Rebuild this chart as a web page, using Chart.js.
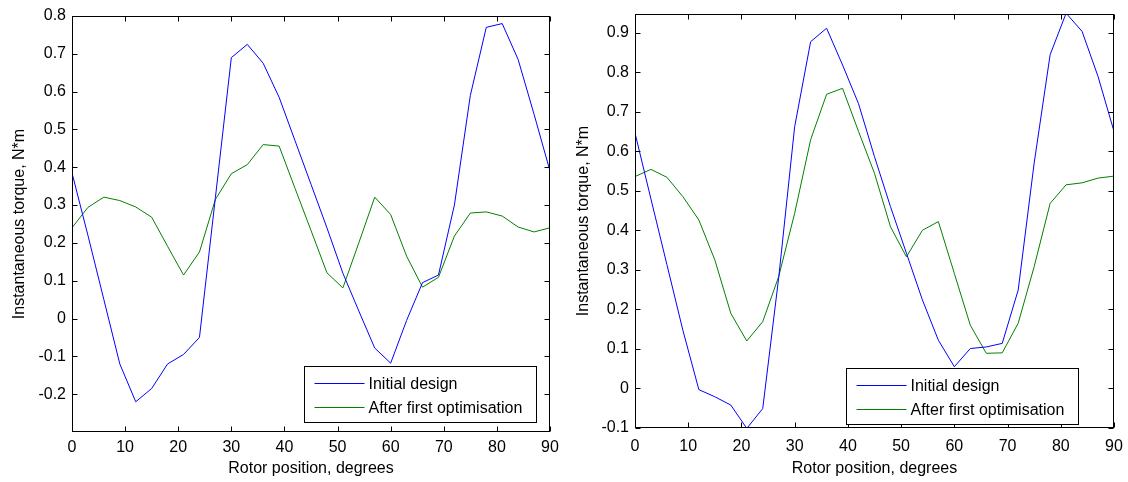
<!DOCTYPE html>
<html><head><meta charset="utf-8">
<script src="https://cdn.jsdelivr.net/npm/chart.js@4.4.1/dist/chart.umd.min.js"></script>
<style>
html,body{margin:0;padding:0;background:#fff;width:1128px;height:482px;overflow:hidden}
.c{position:absolute;top:0;width:564px;height:482px}
</style></head><body>
<div class="c" style="left:0"><canvas id="a" width="564" height="482"></canvas></div>
<div class="c" style="left:564px"><canvas id="b" width="564" height="482"></canvas></div>
<script>
const positions = [0,3,6,9,12,15,18,21,24,27,30,33,36,39,42,45,48,51,54,57,60,63,66,69,72,75,78,81,84,87,90];
const initialLeft = [0.385,0.22,0.05,-0.12,-0.22,-0.185,-0.12,-0.095,-0.05,0.32,0.69,0.725,0.675,0.585,0.47,0.355,0.24,0.12,0.02,-0.078,-0.118,-0.005,0.095,0.115,0.30,0.59,0.77,0.78,0.685,0.54,0.39];
const optimisedLeft = [0.24,0.294,0.321,0.312,0.295,0.268,0.191,0.115,0.176,0.315,0.383,0.407,0.46,0.456,0.344,0.233,0.121,0.081,0.2,0.321,0.275,0.165,0.083,0.109,0.218,0.279,0.282,0.271,0.242,0.229,0.24];
const initialRight = [0.646,0.479,0.313,0.147,-0.003,-0.021,-0.042,-0.101,-0.051,0.28,0.662,0.877,0.911,0.818,0.72,0.586,0.46,0.342,0.224,0.122,0.055,0.101,0.105,0.114,0.249,0.57,0.844,0.949,0.903,0.789,0.65];
const optimisedRight = [0.536,0.554,0.534,0.485,0.426,0.325,0.19,0.12,0.169,0.283,0.443,0.629,0.744,0.759,0.65,0.544,0.409,0.333,0.40,0.422,0.291,0.16,0.089,0.09,0.165,0.308,0.468,0.515,0.52,0.532,0.537];
const xTicks = [0,10,20,30,40,50,60,70,80,90];
const yTicksLeft = [-0.2,-0.1,0,0.1,0.2,0.3,0.4,0.5,0.6,0.7,0.8];
const yTicksRight = [-0.1,0,0.1,0.2,0.3,0.4,0.5,0.6,0.7,0.8,0.9];
const seriesLabels = ['Initial design','After first optimisation'];
const xTitle = 'Rotor position, degrees';
const yTitle = 'Instantaneous torque, N*m';

Chart.defaults.font.family = '"Liberation Sans", Arial, sans-serif';
Chart.defaults.font.size = 16;
Chart.defaults.color = '#000';

const framePlugin = {
  id: 'frame',
  afterDatasetsDraw(chart, args, opts) {
    const ctx = chart.ctx;
    const {left, right, top, bottom} = chart.chartArea;
    const xs = chart.scales.x, ys = chart.scales.y;
    ctx.save();
    ctx.strokeStyle = '#000';
    ctx.lineWidth = 1;
    const L = Math.round(left) + 0.5, R = Math.round(right) - 0.5;
    const T = Math.round(top) + 0.5, B = Math.round(bottom) - 0.5;
    ctx.strokeRect(L, T, R - L, B - T);
    ctx.beginPath();
    xs.ticks.forEach(t => {
      const p = Math.round(xs.getPixelForValue(t.value)) + 0.5;
      ctx.moveTo(p, B); ctx.lineTo(p, B - 5);
      ctx.moveTo(p, T); ctx.lineTo(p, T + 5);
    });
    ys.ticks.forEach(t => {
      const p = Math.round(ys.getPixelForValue(t.value)) + 0.5;
      ctx.moveTo(L, p); ctx.lineTo(L + 5, p);
      ctx.moveTo(R, p); ctx.lineTo(R - 5, p);
    });
    ctx.stroke();
    // legend box
    const w = 232, h = 56;
    const bx = Math.round(R - opts.right - w) + 0.5;
    const by = Math.round(B - opts.bottom - h) + 0.5;
    ctx.fillStyle = '#fff';
    ctx.fillRect(bx, by, w, h);
    ctx.strokeRect(bx, by, w, h);
    ctx.font = '16px "Liberation Sans", Arial, sans-serif';
    ctx.textBaseline = 'middle';
    chart.data.datasets.forEach((ds, i) => {
      const cy = Math.round(by + 16.5 + i * 24.3) + 0.5;
      ctx.strokeStyle = ds.borderColor;
      ctx.beginPath();
      ctx.moveTo(bx + 10, cy); ctx.lineTo(bx + 60, cy);
      ctx.stroke();
      ctx.fillStyle = '#000';
      ctx.fillText(ds.label, bx + 64, cy + 1);
    });
    ctx.restore();
  }
};

function zeroPad(s) { s.paddingLeft = 0; s.paddingRight = 0; s.paddingTop = 0; s.paddingBottom = 0; }

function makeChart(id, initial, optimised, yTicks, yMin, yMax, cfg) {
  const fmt = v => String(Math.round(v * 10) / 10);
  return new Chart(document.getElementById(id), {
    type: 'line',
    data: {
      datasets: [
        {label: seriesLabels[0], data: positions.map((p, i) => ({x: p, y: initial[i]})), borderColor: '#0000ff'},
        {label: seriesLabels[1], data: positions.map((p, i) => ({x: p, y: optimised[i]})), borderColor: '#008000'}
      ]
    },
    options: {
      responsive: false,
      animation: false,
      events: [],
      layout: {padding: {left: 5, top: cfg.top, right: cfg.right, bottom: 0}},
      elements: {line: {borderWidth: 1, tension: 0, fill: false}, point: {radius: 0}},
      plugins: {legend: {display: false}, tooltip: {enabled: false}, frame: cfg.legend},
      scales: {
        x: {
          type: 'linear', min: 0, max: 90,
          grid: {display: false, drawTicks: false},
          border: {display: false},
          afterBuildTicks: s => { s.ticks = xTicks.map(v => ({value: v})); },
          afterFit: s => { s.height = cfg.xh; zeroPad(s); },
          ticks: {padding: cfg.xpad, maxRotation: 0, autoSkip: false, callback: v => fmt(v)},
          title: {display: true, text: xTitle, padding: {top: 0, bottom: 4}}
        },
        y: {
          type: 'linear', min: yMin, max: yMax,
          grid: {display: false, drawTicks: false},
          border: {display: false},
          afterBuildTicks: s => { s.ticks = yTicks.map(v => ({value: v})); },
          afterFit: s => { s.width = cfg.yw; zeroPad(s); },
          ticks: {padding: 6, autoSkip: false, callback: v => fmt(v)},
          title: {display: true, text: yTitle, padding: {top: 5, bottom: 0}}
        }
      }
    },
    plugins: [framePlugin]
  });
}

makeChart('a', initialLeft, optimisedLeft, yTicksLeft, -0.3, 0.8,
  {top: 16, right: 14, xh: 50, yw: 67, xpad: 6, legend: {right: 14, bottom: 10}});
makeChart('b', initialRight, optimisedRight, yTicksRight, -0.1, 0.947,
  {top: 14, right: 14, xh: 54, yw: 66, xpad: 9, legend: {right: 36, bottom: 4}});
</script>
</body></html>
